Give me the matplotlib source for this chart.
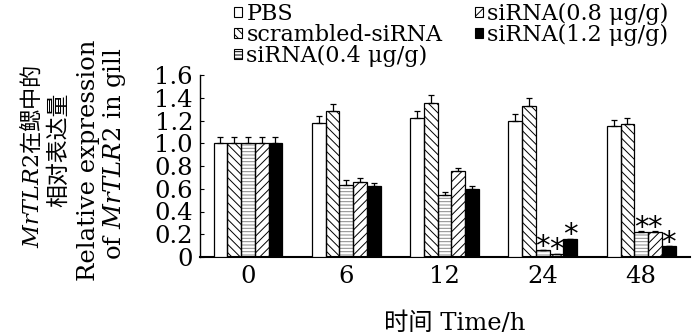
import matplotlib
matplotlib.use("Agg")
import matplotlib.pyplot as plt
from matplotlib.patches import Patch
import numpy as np

SERIF = 'DejaVu Serif'
plt.rcParams['mathtext.fontset'] = 'custom'
plt.rcParams['mathtext.it'] = 'DejaVu Serif:italic'
plt.rcParams['mathtext.rm'] = 'DejaVu Serif'
plt.rcParams['hatch.linewidth'] = 0.7

groups = ['0', '6', '12', '24', '48']
series_names = ['PBS', 'scrambled-siRNA', 'siRNA(0.4 μg/g)', 'siRNA(0.8 μg/g)', 'siRNA(1.2 μg/g)']
pbs = [1.00, 1.18, 1.22, 1.195, 1.15]
pbs_err = [0.055, 0.06, 0.06, 0.06, 0.055]
scr = [1.00, 1.28, 1.35, 1.33, 1.17]
scr_err = [0.055, 0.065, 0.07, 0.065, 0.055]
s04 = [1.00, 0.63, 0.545, 0.06, 0.217]
s04_err = [0.055, 0.05, 0.025, 0.0, 0.01]
s08 = [1.00, 0.66, 0.756, 0.03, 0.22]
s08_err = [0.055, 0.035, 0.03, 0.0, 0.005]
s12 = [1.00, 0.62, 0.595, 0.16, 0.094]
s12_err = [0.055, 0.03, 0.03, 0.0, 0.0]
stars = [[], [], ['24', '48'], ['24', '48'], ['24', '48']]
yticks = [0, 0.2, 0.4, 0.6, 0.8, 1.0, 1.2, 1.4, 1.6]
ytick_labels = ['0', '0.2', '0.4', '0.6', '0.8', '1.0', '1.2', '1.4', '1.6']

values = [pbs, scr, s04, s08, s12]
errors = [pbs_err, scr_err, s04_err, s08_err, s12_err]
styles = [
    dict(face='white', hatch=None, hcol='black'),
    dict(face='white', hatch='\\\\\\\\', hcol='black'),
    dict(face='white', hatch='-----', hcol='#888888'),
    dict(face='white', hatch='////', hcol='black'),
    dict(face='black', hatch=None, hcol='black'),
]

fig = plt.figure(figsize=(7, 3.36), dpi=100)
ax = fig.add_axes([200/700, 1-257/336, 490/700, (257-75)/336])

x = np.arange(len(groups))
w = 0.14
for i, (vals, errs, st) in enumerate(zip(values, errors, styles)):
    xs = x + (i - 2) * w
    if st['hatch']:
        ax.bar(xs, vals, w, color=st['face'], edgecolor=st['hcol'], hatch=st['hatch'], linewidth=0, zorder=2)
        ax.bar(xs, vals, w, fill=False, edgecolor='black', linewidth=0.9, zorder=3)
    else:
        ax.bar(xs, vals, w, color=st['face'], edgecolor='black', linewidth=0.9, zorder=3)
    ax.errorbar(xs, vals, yerr=[np.zeros(len(vals)), errs], fmt='none', ecolor='black',
                elinewidth=0.9, capsize=2.5, capthick=0.9, zorder=4)
    for g in stars[i]:
        j = groups.index(g)
        ax.annotate('*', (xs[j], vals[j] + errs[j]), xytext=(0, -7.5), textcoords='offset points',
                    ha='center', va='bottom', fontsize=21, family='DejaVu Sans', zorder=5)

ax.set_xlim(-0.488, 4.497)
ax.set_ylim(0, 1.6)
ax.set_yticks(yticks)
ax.set_yticklabels(ytick_labels, family=SERIF, fontsize=17.5)
ax.set_xticks(x)
ax.set_xticklabels(groups, family=SERIF, fontsize=17.5)
ax.tick_params(axis='y', direction='in', length=3, pad=5)
ax.tick_params(axis='x', length=0, pad=6)
for s in ['top', 'right']:
    ax.spines[s].set_visible(False)
ax.spines['left'].set_linewidth(1.0)
ax.spines['bottom'].set_linewidth(1.5)

# y labels
fig.text(32/700, 1-156/336, r'$\mathit{MrTLR2}$在鳃中的', rotation=90, ha='center', va='center',
         family=['Noto Sans CJK SC'], fontsize=16)
fig.text(59/700, 1-150/336, '相对表达量', rotation=90, ha='center', va='center',
         family=['Noto Sans CJK SC'], fontsize=16.5)
fig.text(88/700, 1-160/336, 'Relative expression', rotation=90, ha='center', va='center',
         family=[SERIF], fontsize=17.5)
fig.text(115/700, 1-154/336, r'of $\mathit{MrTLR2}$ in gill', rotation=90, ha='center', va='center',
         family=[SERIF], fontsize=17.5)

fig.text(455/700, 1-323/336, '时间 Time/h', ha='center', va='center',
         family=[SERIF, 'Noto Sans CJK SC'], fontsize=17.5)

handles = []
for st, name in zip(styles, series_names):
    handles.append(Patch(facecolor=st['face'], edgecolor='black', hatch=st['hatch'], linewidth=0.8, label=name))
leg = fig.legend(handles=handles, loc='upper left', bbox_to_anchor=(234/700, 1-3/336), ncol=2,
                 frameon=False, prop={'family': SERIF, 'size': 16},
                 handlelength=0.36, handleheight=0.36, handletextpad=0.2, labelspacing=-0.05,
                 columnspacing=1.45, borderpad=0, borderaxespad=0)

fig.savefig('out.png', dpi=100)
